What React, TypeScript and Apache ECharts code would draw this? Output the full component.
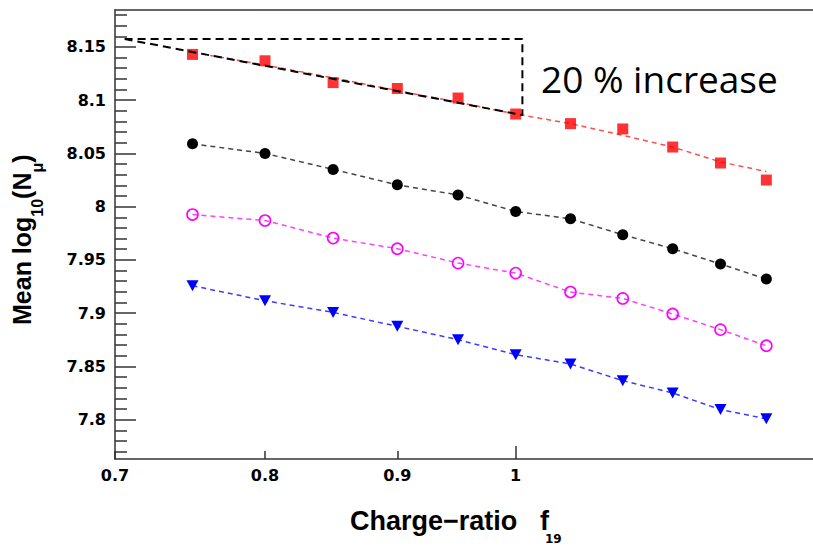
import React, { useEffect, useRef } from "react";
import * as echarts from "echarts";

// Charge-ratio f19 sampled at each point (log-scaled x axis)
const chargeRatio = [0.75, 0.8, 0.85, 0.9, 0.95, 1.0, 1.05, 1.1, 1.15, 1.2, 1.25];

// Mean log10(N_mu) for the four samples
const redSquares = [8.143, 8.137, 8.1165, 8.111, 8.102, 8.087, 8.078, 8.073, 8.056, 8.041, 8.025];
const redFit = [8.145, 8.133, 8.121, 8.109, 8.098, 8.087, 8.078, 8.067, 8.056, 8.042, 8.033];
const blackCircles = [8.059, 8.05, 8.035, 8.0205, 8.011, 7.9955, 7.9886, 7.9736, 7.9605, 7.9461, 7.932];
const magentaCircles = [7.9926, 7.987, 7.9705, 7.9605, 7.947, 7.9376, 7.9198, 7.9138, 7.8992, 7.8845, 7.8694];
const blueTriangles = [7.9257, 7.9117, 7.9007, 7.8876, 7.8751, 7.861, 7.8523, 7.8366, 7.825, 7.8094, 7.8007];

// Dashed "20 % increase" triangle
const boxX = [0.706, 1.006, 1.006, 0.706];
const boxY = [8.1575, 8.1575, 8.086, 8.1575];

// Axis ticks and labels
const xTickLabels = [0.7, 0.8, 0.9, 1];
const xSmallTicks = [0.7, 0.8, 0.9];
const xLargeTicks = [1];
const yMajorTicks = [7.8, 7.85, 7.9, 7.95, 8, 8.05, 8.1, 8.15];
const yMinorTicks: number[] = [];
for (let i = 777; i <= 818; i++) {
  if (i % 5 !== 0) yMinorTicks.push(i / 100);
}

const Y_MIN = 7.763;
const Y_MAX = 8.1847;
const X_MIN = 0.7;
const X_MAX = 1.303;

const pairs = (ys: number[]) => chargeRatio.map((x, i) => [x, ys[i]]);

const AXIS_COLOR = "#333";
const tickFont = {
  fontFamily: "DejaVu Sans",
  fontWeight: "bold" as const,
  fontSize: 16,
  color: "#000",
};
const dash = [5, 4];

export default function App() {
  const ref = useRef<HTMLDivElement>(null);

  useEffect(() => {
    document.body.style.margin = "0";
    if (!ref.current) return;
    const chart = echarts.init(ref.current, null, { renderer: "svg" });

    const xBase = {
      type: "log" as const,
      logBase: 10,
      min: X_MIN,
      max: X_MAX,
      splitLine: { show: false },
      minorTick: { show: false },
    };
    const yBase = {
      type: "value" as const,
      min: Y_MIN,
      max: Y_MAX,
      position: "left" as const,
      splitLine: { show: false },
    };
    const axisLine = { show: true, onZero: false, lineStyle: { color: AXIS_COLOR, width: 1.5 } };

    chart.setOption({
      animation: false,
      backgroundColor: "#fff",
      grid: { left: 115, top: 10, right: 0, bottom: 88 },
      xAxis: [
        {
          ...xBase,
          position: "bottom",
          axisLine,
          axisTick: {
            show: true,
            inside: true,
            length: 8,
            customValues: xSmallTicks,
            lineStyle: { color: AXIS_COLOR, width: 1.5 },
          },
          axisLabel: {
            ...tickFont,
            margin: 8,
            customValues: xTickLabels,
            formatter: (v: number) => String(v),
          },
        },
        {
          ...xBase,
          position: "bottom",
          axisLine: { show: false },
          axisTick: {
            show: true,
            inside: true,
            length: 13,
            customValues: xLargeTicks,
            lineStyle: { color: AXIS_COLOR, width: 1.5 },
          },
          axisLabel: { show: false },
        },
        {
          // frame line along the top of the plot
          ...xBase,
          position: "top",
          axisLine,
          axisTick: { show: false },
          axisLabel: { show: false },
        },
      ],
      yAxis: [
        {
          ...yBase,
          axisLine,
          axisTick: {
            show: true,
            inside: true,
            length: 21,
            customValues: yMajorTicks,
            lineStyle: { color: AXIS_COLOR, width: 1.5 },
          },
          axisLabel: {
            ...tickFont,
            margin: 9,
            customValues: yMajorTicks,
            formatter: (v: number) => String(v),
          },
        },
        {
          ...yBase,
          axisLine: { show: false },
          axisTick: {
            show: true,
            inside: true,
            length: 12,
            customValues: yMinorTicks,
            lineStyle: { color: AXIS_COLOR, width: 1.5 },
          },
          axisLabel: { show: false },
        },
      ],
      series: [
        {
          type: "line",
          data: pairs(redFit),
          symbol: "none",
          silent: true,
          lineStyle: { color: "#ff4d4d", width: 1.5, type: dash },
          z: 2,
        },
        {
          type: "scatter",
          data: pairs(redSquares),
          symbol: "rect",
          symbolSize: 11,
          silent: true,
          itemStyle: { color: "#ff0000" },
          z: 3,
        },
        {
          type: "line",
          data: pairs(blackCircles),
          symbol: "circle",
          symbolSize: 11,
          silent: true,
          itemStyle: { color: "#000" },
          lineStyle: { color: "#444", width: 1.5, type: dash },
          z: 3,
        },
        {
          type: "line",
          data: pairs(magentaCircles),
          symbol: "circle",
          symbolSize: 11,
          silent: true,
          itemStyle: { color: "rgba(0,0,0,0)", borderColor: "#ff00ff", borderWidth: 1.6 },
          lineStyle: { color: "#ff40ff", width: 1.5, type: dash },
          z: 3,
        },
        {
          type: "line",
          data: pairs(blueTriangles),
          symbol: "triangle",
          symbolRotate: 180,
          symbolSize: [12, 11],
          silent: true,
          itemStyle: { color: "#0000ff" },
          lineStyle: { color: "#3c3cff", width: 1.5, type: dash },
          z: 3,
        },
        {
          type: "line",
          data: boxX.map((x, i) => [x, boxY[i]]),
          symbol: "none",
          silent: true,
          lineStyle: { color: "#000", width: 2, type: [8, 5] },
          z: 5,
        },
      ],
      graphic: [
        {
          type: "text",
          x: 9,
          y: 325,
          rotation: Math.PI / 2,
          silent: true,
          style: {
            text: "{m|Mean log}{s|10}{m|(N}{s|μ}{m|)}",
            align: "left",
            verticalAlign: "top",
            fill: "#000",
            rich: {
              m: {
                fontFamily: "Liberation Sans",
                fontWeight: "bold",
                fontSize: 25,
                lineHeight: 30,
                verticalAlign: "top",
                fill: "#000",
              },
              s: {
                fontFamily: "Liberation Sans",
                fontWeight: "bold",
                fontSize: 16,
                lineHeight: 20,
                padding: [20, 0, 0, 0],
                verticalAlign: "top",
                fill: "#000",
              },
            },
          },
        },
        {
          type: "text",
          x: 350,
          y: 521,
          silent: true,
          style: {
            text: "Charge\u2212ratio",
            fontFamily: "Liberation Sans",
            fontWeight: "bold",
            fontSize: 27,
            fill: "#000",
            align: "left",
            verticalAlign: "middle",
          },
        },
        {
          type: "text",
          x: 540,
          y: 521,
          silent: true,
          style: {
            text: "f",
            fontFamily: "Liberation Sans",
            fontWeight: "bold",
            fontSize: 27,
            fill: "#000",
            align: "left",
            verticalAlign: "middle",
          },
        },
        {
          type: "text",
          x: 545,
          y: 539,
          silent: true,
          style: {
            text: "19",
            fontFamily: "DejaVu Sans",
            fontWeight: "bold",
            fontSize: 12,
            fill: "#000",
            align: "left",
            verticalAlign: "middle",
          },
        },
        {
          type: "text",
          x: 541,
          y: 78,
          silent: true,
          style: {
            text: "20 % increase",
            fontFamily: "Open Sans",
            fontSize: 37,
            fill: "#000",
            align: "left",
            verticalAlign: "middle",
          },
        },
      ],
    });

    return () => chart.dispose();
  }, []);

  return <div ref={ref} style={{ width: 813, height: 547 }} />;
}
